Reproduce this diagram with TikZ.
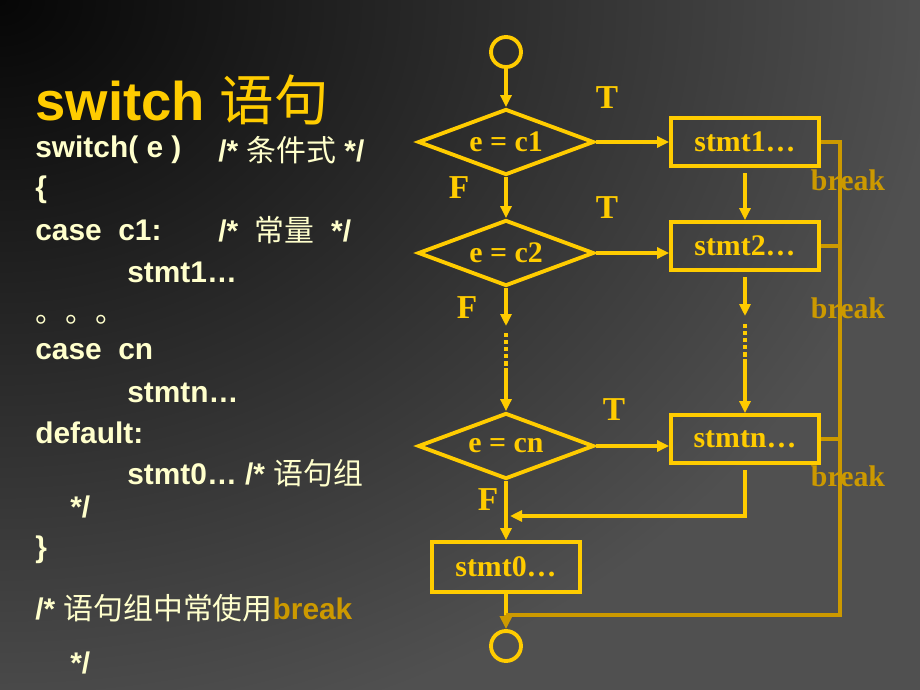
\documentclass[tikz,border=0pt]{standalone}
\usepackage{fontspec}
\setmainfont{Liberation Serif}
\newfontfamily\codefont{Liberation Sans}
\newfontfamily\cjk{Noto Sans CJK SC}
\usepackage{tikz}
\usetikzlibrary{shapes.geometric, arrows.meta, positioning, calc}
\definecolor{flowyellow}{RGB}{255,204,0}
\definecolor{breakgold}{RGB}{204,153,0}
\definecolor{codecream}{RGB}{255,255,204}
\definecolor{bgdark}{RGB}{6,6,6}
\definecolor{bggray}{RGB}{80,80,80}
\newcommand{\zhtext}[1]{{\cjk\mdseries #1}}

\tikzset{
  stmtbox/.style={rectangle, draw=flowyellow, line width=2.2pt, minimum width=2.96cm, minimum height=0.96cm,
    text=flowyellow, font=\fontsize{17}{20}\selectfont\bfseries},
  testbox/.style={diamond, aspect=2.67, draw=flowyellow, line width=2.2pt, minimum width=3.52cm, minimum height=1.32cm,
    inner sep=0pt, text=flowyellow, font=\fontsize{17}{20}\selectfont\bfseries},
  endpt/.style={circle, draw=flowyellow, line width=2.2pt, minimum size=0.6cm, inner sep=0pt},
  flow/.style={draw=flowyellow, line width=1.8pt, -{Triangle[length=0.24cm,width=0.22cm]}},
  flowline/.style={draw=flowyellow, line width=1.8pt},
  gap/.style={draw=flowyellow, line width=1.8pt, dash pattern=on 2.5pt off 1.5pt},
  brk/.style={draw=breakgold, line width=2pt},
  tflabel/.style={text=flowyellow, font=\fontsize{19}{22}\selectfont\bfseries},
  brklabel/.style={text=breakgold, font=\fontsize{17}{20}\selectfont\bfseries},
  codeline/.style={anchor=west, inner sep=0pt, text=codecream, font=\codefont\fontsize{17}{20}\selectfont\bfseries},
}

\begin{document}
\begin{tikzpicture}[x=0.02cm, y=-0.02cm]
    % Background
    \useasboundingbox (0,0) rectangle (920,690);
    \fill[bggray] (0,0) rectangle (920,690);
    \begin{scope}
        \clip (0,0) rectangle (920,690);
        \shade[inner color=bgdark, outer color=bggray] (0,0) ellipse [x radius=940, y radius=760];
    \end{scope}

    % Title and code listing
    \node[codeline, text=flowyellow, font=\codefont\fontsize{31}{36}\selectfont\bfseries] (title) at (35,100) {switch \zhtext{语句}};
    \node[codeline] (l1) at (35,150) {switch( e )};
    \node[codeline] (c1) at (218,150) {/* \zhtext{条件式} */};
    \node[codeline] (l2) at (35,190) {\{};
    \node[codeline] (l3) at (35,230) {case\ \ c1:};
    \node[codeline] (c3) at (218,230) {/*\ \ \zhtext{常量}\ \ */};
    \node[codeline] (l4) at (127,272) {stmt1…};
    \node[codeline] (l5) at (35,320) {\zhtext{。。。}};
    \node[codeline] (l6) at (35,352) {case\ \ cn};
    \node[codeline] (l7) at (127,393) {stmtn…};
    \node[codeline] (l8) at (35,433) {default:};
    \node[codeline] (l9) at (127,473) {stmt0… /* \zhtext{语句组}};
    \node[codeline] (l10) at (70,507) {*/};
    \node[codeline] (l11) at (35,550) {\}};
    \node[codeline] (l12) at (35,608) {/* \zhtext{语句组中常使用}\textcolor{breakgold}{break}};
    \node[codeline] (l13) at (70,663) {*/};

    % Flowchart nodes
    \node[endpt] (start) at (506,52) {};
    \node[testbox] (d1) at (506,142) {e = c1};
    \node[testbox] (d2) at (506,253) {e = c2};
    \node[testbox] (dn) at (506,446) {e = cn};
    \node[stmtbox] (s1) at (745,142) {stmt1…};
    \node[stmtbox] (s2) at (745,246) {stmt2…};
    \node[stmtbox] (sn) at (745,439) {stmtn…};
    \node[stmtbox, minimum height=1cm] (s0) at (506,567) {stmt0…};
    \node[endpt] (stop) at (506,646) {};

    % T / F labels
    \foreach \x/\y/\t in {607/98/T, 607/208/T, 614/410/T, 459/188/F, 467/308/F, 488/500/F}
        \node[tflabel] at (\x,\y) {\t};
    \foreach \y in {180, 308, 476}
        \node[brklabel] at (848,\y) {break};

    % Helper points
    \coordinate (g1) at (506,326);
    \coordinate (g2) at (506,333);
    \coordinate (g3) at (506,371);
    \coordinate (h1) at (745,316);
    \coordinate (h2) at (745,324);
    \coordinate (h3) at (745,364);
    \coordinate (jn) at (510,516);
    \coordinate (bc) at (840,615);
    \coordinate (bm) at (506,615);

    % Connectors
    \draw[flow] (start) -- (d1);
    \draw[flow] (d1) -- (s1);
    \draw[flow] (d1) -- (d2);
    \draw[flow, shorten <=3pt] (s1) -- (s2);
    \draw[flow] (d2.east) -- (d2.east -| s2.west);
    \draw[flow] (d2) -- (g1);
    \draw[gap] (g2) -- (g3);
    \draw[flow] (g3) -- (dn);
    \draw[flow, shorten <=3pt] (s2) -- (h1);
    \draw[gap] (h2) -- (h3);
    \draw[flow] (h3) -- (sn);
    \draw[flow] (dn.east) -- (dn.east -| sn.west);
    \draw[flow] (dn) -- (s0);
    \draw[flow, shorten <=3pt] (sn.south) |- (jn);
    \draw[flowline] (s0) -- (bm);

    % break paths
    \draw[brk] (s1.east) -| (bc) -- (bm);
    \foreach \s in {s2, sn}
        \draw[brk] (\s.east) -- (\s.east -| bc);
    \draw[brk, line width=2.2pt, -{Triangle[length=0.26cm,width=0.24cm]}] (bm) -- (stop);
\end{tikzpicture}
\end{document}
